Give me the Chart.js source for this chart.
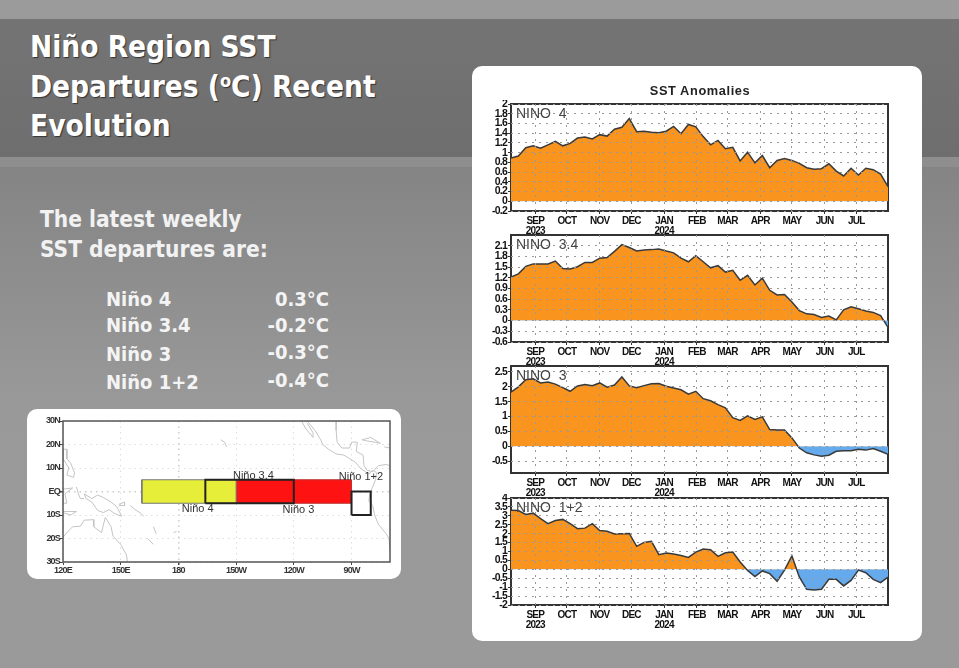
<!DOCTYPE html>
<html>
<head>
<meta charset="utf-8">
<title>Niño Region SST Departures</title>
<script src="https://cdn.jsdelivr.net/npm/chart.js@4/dist/chart.umd.min.js"></script>
<style>
  html, body { margin: 0; padding: 0; }
  body { position: relative; width: 959px; height: 668px; overflow: hidden; background: linear-gradient(#848484 167px, #999 400px, #9a9a9a 668px); font-family: "DejaVu Sans", sans-serif; font-stretch: condensed; color: #f4f4f4; }
  .strip { position: absolute; left: 0; width: 959px; }
  .txt { position: absolute; white-space: nowrap; font-weight: bold; }
  .title { font-size: 29.5px; line-height: 39.5px; left: 30px; top: 28px; color: #fff; text-shadow: 1px 1px 1px #333; }
  .title sup { font-size: 18px; line-height: 0; vertical-align: 10px; }
  .sub { font-size: 22.5px; line-height: 30px; left: 40px; top: 204px; color: #f2f2f2; }
  .row { font-size: 20px; line-height: 24px; }
  .card { position: absolute; background: #fff; }
  canvas { position: absolute; filter: blur(0.45px); }
  #plotTitle { position: absolute; left: 472px; width: 456px; top: 83px; text-align: center; font: bold 12.8px "Liberation Sans", sans-serif; letter-spacing: 0.6px; color: #222; filter: blur(0.4px); }
</style>
</head>
<body>
<div class="strip" style="top:0;height:19px;background:#9b9b9b"></div>
<div class="strip" style="top:19px;height:138px;background:linear-gradient(#747474,#6e6e6e)"></div>
<div class="strip" style="top:157px;height:10px;background:#8e8e8e"></div>

<div class="txt title">Niño Region SST<br>Departures (<sup>o</sup>C) Recent<br>Evolution</div>
<div class="txt sub">The latest weekly<br>SST departures are:</div>
<div id="table"></div>

<div class="card" style="left:27px;top:409px;width:374px;height:170px;border-radius:10px"></div>
<div class="card" style="left:472px;top:66px;width:450px;height:575px;border-radius:10px"></div>
<div id="plotTitle">SST Anomalies</div>

<canvas id="map" width="374" height="170" style="left:27px;top:409px"></canvas>
<canvas id="nino4" width="450" height="135" style="left:472px;top:100px"></canvas>
<canvas id="nino34" width="450" height="135" style="left:472px;top:231px"></canvas>
<canvas id="nino3" width="450" height="135" style="left:472px;top:362px"></canvas>
<canvas id="nino12" width="450" height="135" style="left:472px;top:494px"></canvas>

<script>
// days since 9 Aug 2023, one point per week
const weekDays = [0,7,14,21,28,35,42,49,56,63,70,77,84,91,98,105,112,119,126,133,140,147,154,161,168,175,182,189,196,203,210,217,224,231,238,245,252,259,266,273,280,287,294,301,308,315,322,329,336,343,350,357];

const monthDays = [23,53,84,114,145,176,205,236,266,297,327];
const monthNames = ['SEP','OCT','NOV','DEC','JAN','FEB','MAR','APR','MAY','JUN','JUL'];
const yearLabels = ['2023','','','','2024','','','','','',''];

const nino4Values = [0.89,0.93,1.10,1.14,1.09,1.16,1.23,1.14,1.19,1.30,1.32,1.28,1.37,1.34,1.48,1.52,1.70,1.43,1.44,1.42,1.41,1.44,1.54,1.39,1.58,1.53,1.33,1.16,1.25,1.08,1.11,0.83,1.01,0.79,0.94,0.69,0.84,0.88,0.84,0.78,0.69,0.66,0.67,0.77,0.62,0.52,0.68,0.54,0.68,0.65,0.56,0.30];
const nino34Values = [1.22,1.31,1.52,1.59,1.59,1.59,1.67,1.46,1.45,1.51,1.63,1.63,1.75,1.77,1.94,2.13,2.05,1.95,1.98,1.99,2.01,1.95,1.90,1.75,1.65,1.82,1.65,1.48,1.54,1.36,1.41,1.13,1.27,1.00,1.19,0.85,0.72,0.73,0.52,0.28,0.19,0.17,0.09,0.13,0.02,0.30,0.39,0.33,0.27,0.23,0.14,-0.19];
const nino3Values = [1.82,2.00,2.24,2.27,2.13,2.16,2.09,1.97,1.85,2.03,2.08,2.04,2.13,1.99,2.06,2.33,2.03,1.97,2.04,2.10,2.11,2.02,1.96,1.90,1.75,1.85,1.60,1.53,1.40,1.29,0.96,0.87,1.02,0.90,0.99,0.56,0.55,0.55,0.28,-0.06,-0.22,-0.29,-0.34,-0.30,-0.17,-0.15,-0.15,-0.10,-0.13,-0.08,-0.17,-0.27];
const nino12Values = [3.32,3.30,3.08,3.15,2.84,2.56,2.74,2.80,2.56,2.28,2.31,2.56,2.18,2.13,1.98,2.00,2.01,1.29,1.51,1.57,0.82,0.91,0.86,0.78,0.67,0.97,1.14,1.10,0.73,0.93,0.97,0.41,-0.06,-0.41,-0.09,-0.24,-0.67,-0.04,0.75,-0.43,-1.12,-1.16,-1.12,-0.56,-0.56,-0.93,-0.62,-0.04,-0.19,-0.56,-0.75,-0.43];

const nino4Ticks = [-0.2,0,0.2,0.4,0.6,0.8,1,1.2,1.4,1.6,1.8,2];
const nino34Ticks = [-0.6,-0.3,0,0.3,0.6,0.9,1.2,1.5,1.8,2.1];
const nino3Ticks = [-0.5,0,0.5,1,1.5,2,2.5];
const nino12Ticks = [-2,-1.5,-1,-0.5,0,0.5,1,1.5,2,2.5,3,3.5,4];

// text panel
const regionNames = ['Niño 4','Niño 3.4','Niño 3','Niño 1+2'];
const latestDepartures = ['0.3°C','-0.2°C','-0.3°C','-0.4°C'];
const nameTops = [287,313,342,370];
const valueTops = [287,313,340,368];

const table = document.getElementById('table');
regionNames.forEach((name, i) => {
  table.innerHTML += `<div class="txt row" style="left:106px;top:${nameTops[i]}px">${name}</div>`;
  table.innerHTML += `<div class="txt row" style="right:630px;top:${valueTops[i]}px">${latestDepartures[i]}</div>`;
});

// there is no narrow font here, so squeeze the axis labels a bit
const squeezeText = {
  id: 'squeezeText',
  beforeDraw(chart) { chart.ctx.letterSpacing = '-0.8px'; }
};

// frame goes under the dotted grid, the region label on top of everything
const panelDecor = {
  id: 'panelDecor',
  beforeDatasetsDraw(chart, args, opts) {
    const a = chart.chartArea, ctx = chart.ctx;
    ctx.save();
    ctx.strokeStyle = '#333';
    ctx.lineWidth = 2;
    ctx.strokeRect(a.left, a.top, a.right - a.left, a.bottom - a.top);
    ctx.restore();
  },
  afterDraw(chart, args, opts) {
    const a = chart.chartArea, ctx = chart.ctx;
    ctx.save();
    ctx.fillStyle = '#444';
    ctx.font = '14px "Liberation Sans"';
    ctx.letterSpacing = '0px';
    ctx.textBaseline = 'middle';
    ctx.fillText(opts.label, a.left + 5, a.top + 10);
    ctx.restore();
  }
};

function makePanel(id, label, values, yTicks, yMin, yMax) {
  new Chart(document.getElementById(id), {
    type: 'line',
    data: {
      datasets: [{
        data: weekDays.map((d, i) => ({ x: d, y: values[i] })),
        borderColor: '#3a3a3a',
        borderWidth: 1.5,
        pointRadius: 0,
        tension: 0,
        fill: { target: { value: 0 }, above: '#f9951f', below: '#66aaee' }
      }]
    },
    options: {
      responsive: false,
      animation: false,
      layout: { padding: { top: 4, right: 34 } },
      plugins: { legend: { display: false }, tooltip: { enabled: false }, panelDecor: { label: label } },
      scales: {
        x: {
          type: 'linear',
          min: 0,
          max: 357,
          afterBuildTicks: s => { s.ticks = monthDays.map(v => ({ value: v })); },
          afterFit: s => { s.height = 24; s.paddingLeft = 0; s.paddingRight = 0; },
          grid: { color: '#999', z: 1, tickLength: 3, tickColor: '#333', tickBorderDash: [] },
          border: { display: false, dash: [2, 5] },
          ticks: {
            autoSkip: false,
            maxRotation: 0,
            padding: 2,
            color: '#111',
            font: { family: '"Liberation Sans"', size: 10, weight: 'bold', lineHeight: 1 },
            callback: (v, i) => yearLabels[i] ? [monthNames[i], yearLabels[i]] : monthNames[i]
          }
        },
        y: {
          min: yMin,
          max: yMax,
          afterBuildTicks: s => { s.ticks = yTicks.map(v => ({ value: v })); },
          afterFit: s => { s.width = 39; s.paddingTop = 0; s.paddingBottom = 0; },
          grid: { color: '#999', z: 1, tickLength: 3, tickColor: '#333', tickBorderDash: [] },
          border: { display: false, dash: [2, 5] },
          ticks: {
            autoSkip: false,
            padding: 1,
            color: '#111',
            font: { family: '"Liberation Sans"', size: 10.5, weight: 'bold' },
            callback: v => String(v)
          }
        }
      }
    },
    plugins: [squeezeText, panelDecor]
  });
}

makePanel('nino4', 'NINO  4', nino4Values, nino4Ticks, -0.2, 2);
makePanel('nino34', 'NINO  3.4', nino34Values, nino34Ticks, -0.6, 2.4);
makePanel('nino3', 'NINO  3', nino3Values, nino3Ticks, -0.9, 2.7);
makePanel('nino12', 'NINO  1+2', nino12Values, nino12Ticks, -2, 4);

// map of the regions, lon in degrees east
const lonTicks = [120,150,180,210,240,270];
const lonLabels = ['120E','150E','180','150W','120W','90W'];
const latTicks = [-30,-20,-10,0,10,20,30];
const latLabels = ['30S','20S','10S','EQ','10N','20N','30N'];

const nino4Box = [[161,-5],[210,-5],[210,5],[161,5],[161,-5]];
const nino3Box = [[210,-5],[270,-5],[270,5],[210,5],[210,-5]];
const nino34Box = [[194,-5],[240,-5],[240,5],[194,5],[194,-5]];
const nino12Box = [[270,-10],[280,-10],[280,0],[270,0],[270,-10]];

const coastLines = [
  [[120,-19.5],[122,-17.5],[125,-15],[129,-14.8],[131,-12.2],[136,-12],[136,-15],[140,-17.5],[142,-11],[145,-15],[146,-19],[150,-22.5],[153,-27],[153.5,-30]],
  [[131,-1],[135,-3],[138,-1.5],[141,-2.6],[145,-4.5],[148,-6.5],[150.5,-10.5],[147,-9.5],[144,-7.7],[141,-9],[138,-8],[135,-4.5],[132,-3],[131,-1]],
  [[120,18],[122,18],[122,14],[124,12],[126,8],[125.5,6],[122,7],[123,10],[120,14],[120,18]],
  [[120,1],[125,1.5],[121,-1],[122,-5],[120,-5],[120,1]],
  [[127,2],[128,-1],[129,-3],[131,-3]],
  [[120,-9],[124,-10],[127,-8.5],[124,-8.5],[120,-8.5]],
  [[149,-5.5],[152,-4.5],[152,-6],[149,-6]],
  [[155,-6],[158,-8],[160,-9],[162,-10.5]],
  [[167,-15],[168.5,-18]],
  [[164,-20],[167,-22.5]],
  [[177.5,-17.5],[179,-17]],
  [[205,19],[204,21],[202,22]],
  [[244,30],[246,27],[250,23],[250,25],[247,29]],
  [[247,30],[251,26],[254,22],[255,20],[258,18],[262,16],[266,15.5],[269,14],[272,12.5],[274.5,10],[277,8.5],[279,7.5],[281,9],[283,8],[282.5,5],[281,2],[279.5,-1],[279,-4],[281,-6],[282,-10],[284,-14],[288,-18],[289.5,-20],[290,-25]],
  [[262,30],[262,26],[262.5,21],[265,18.5],[269,18.5],[270,21],[273,21],[272.5,17],[276,15.5],[276.5,11],[278,9],[281,8.5],[284,11],[288,11.5],[290,11]],
  [[275.5,22],[280,23],[285,20.5],[282,21],[278,21.5],[275.5,22]],
  [[287,19],[290,18.5]]
];

const mapNames = ['Niño 3.4','Niño 4','Niño 3','Niño 1+2'];
const mapNamePoints = [[219,6.7],[190,-7.5],[242.4,-7.7],[274.9,6.3]];

const toPoints = list => list.map(p => ({ x: p[0], y: p[1] }));

const coastSets = coastLines.map(line => ({
  data: toPoints(line), showLine: true, pointRadius: 0, borderColor: '#c4c4c4', borderWidth: 1, fill: false, tension: 0
}));
const boxSet = (box, fillColor, edge, width) => ({
  data: toPoints(box), showLine: true, pointRadius: 0, borderColor: edge, borderWidth: width, backgroundColor: fillColor, fill: fillColor ? 'shape' : false, tension: 0
});

const mapDecor = {
  id: 'mapDecor',
  afterDraw(chart) {
    const a = chart.chartArea, ctx = chart.ctx;
    ctx.save();
    ctx.strokeStyle = '#555';
    ctx.lineWidth = 1.5;
    ctx.strokeRect(a.left, a.top, a.right - a.left, a.bottom - a.top);
    ctx.fillStyle = '#333';
    ctx.letterSpacing = '0px';
    ctx.font = '11px "Liberation Sans"';
    ctx.textAlign = 'center';
    ctx.textBaseline = 'middle';
    mapNames.forEach((name, i) => {
      ctx.fillText(name, chart.scales.x.getPixelForValue(mapNamePoints[i][0]), chart.scales.y.getPixelForValue(mapNamePoints[i][1]));
    });
    ctx.restore();
  }
};

// first dataset is painted last, so outlines come first and coasts last
new Chart(document.getElementById('map'), {
  type: 'scatter',
  data: {
    datasets: [
      boxSet(nino34Box, null, '#222', 2),
      boxSet(nino12Box, null, '#222', 2),
      boxSet(nino4Box, '#e6ee3a', '#777', 1),
      boxSet(nino3Box, '#ff1212', '#b33', 1),
      ...coastSets
    ]
  },
  options: {
    responsive: false,
    animation: false,
    layout: { padding: { top: 12, right: 11 } },
    plugins: { legend: { display: false }, tooltip: { enabled: false } },
    scales: {
      x: {
        min: 120,
        max: 290,
        afterBuildTicks: s => { s.ticks = lonTicks.map(v => ({ value: v })); },
        afterFit: s => { s.height = 17; s.paddingLeft = 0; s.paddingRight = 0; },
        grid: { z: -1, tickLength: 3, tickColor: '#444', tickBorderDash: [], color: c => c.tick.value === 180 ? '#ccc' : '#ddd', lineWidth: c => c.tick.value === 180 ? 1.5 : 1 },
        border: { display: false, dash: [1.5, 4] },
        ticks: { autoSkip: false, maxRotation: 0, padding: 0, color: '#333', font: { family: '"Liberation Sans"', size: 9, weight: 'bold' }, callback: (v, i) => lonLabels[i] }
      },
      y: {
        min: -30,
        max: 30,
        afterBuildTicks: s => { s.ticks = latTicks.map(v => ({ value: v })); },
        afterFit: s => { s.width = 36; s.paddingTop = 0; s.paddingBottom = 0; },
        grid: { z: -1, tickLength: 3, tickColor: '#444', tickBorderDash: [], color: c => c.tick.value === 0 ? '#ccc' : '#ddd', lineWidth: c => c.tick.value === 0 ? 1.5 : 1 },
        border: { display: false, dash: [1.5, 4] },
        ticks: { autoSkip: false, padding: 0, color: '#333', font: { family: '"Liberation Sans"', size: 9, weight: 'bold' }, callback: (v, i) => latLabels[i] }
      }
    }
  },
  plugins: [squeezeText, mapDecor]
});
</script>
</body>
</html>
